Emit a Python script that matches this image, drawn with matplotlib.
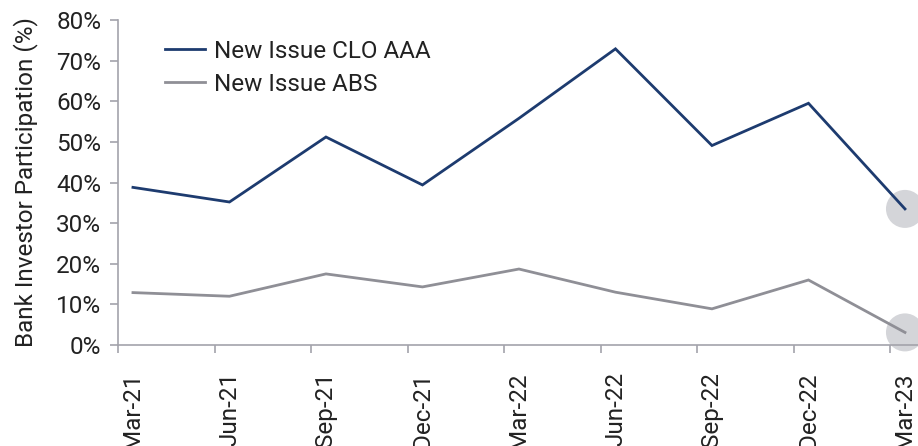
import matplotlib
matplotlib.use("Agg")
import matplotlib.pyplot as plt
from matplotlib.patches import Ellipse
from matplotlib.lines import Line2D
import numpy as np

categories = ["Mar-21", "Jun-21", "Sep-21", "Dec-21", "Mar-22", "Jun-22", "Sep-22", "Dec-22", "Mar-23"]
clo_aaa = [38.8, 35.2, 51.2, 39.4, 55.8, 72.9, 49.1, 59.5, 33.5]
abs_vals = [12.9, 12.0, 17.5, 14.3, 18.7, 13.0, 8.9, 16.0, 3.1]
series_names = ["New Issue CLO AAA", "New Issue ABS"]
y_ticks = [0, 10, 20, 30, 40, 50, 60, 70, 80]

plt.rcParams['font.family'] = ['Roboto', 'DejaVu Sans']
FS = 17.5
txt_col = "#222222"

W, H = 918, 446
fig = plt.figure(figsize=(W / 100, H / 100), dpi=100)
left_px, right_px, top_px, bot_px = 118, 918, 20, 345
ax = fig.add_axes([left_px / W, 1 - bot_px / H, (right_px - left_px) / W, (bot_px - top_px) / H])

x = np.arange(len(categories))
navy = "#1d3b6f"
grey = "#8f8f96"
axis_col = "#a3a3ab"

ax.plot(x, clo_aaa, color=navy, lw=2.0, zorder=3, solid_joinstyle='miter')
ax.plot(x, abs_vals, color=grey, lw=2.0, zorder=3, solid_joinstyle='miter')

ax.set_xlim(-0.155, 8.135)
ax.set_ylim(0, 80)

px_per_x = (right_px - left_px) / (8.135 + 0.155)
px_per_y = (bot_px - top_px) / 80
r = 19
for v in [clo_aaa[-1], abs_vals[-1]]:
    e = Ellipse((x[-1], v), width=2 * r / px_per_x, height=2 * r / px_per_y,
                facecolor="#d4d5d9", edgecolor="none", zorder=2, clip_on=False)
    ax.add_patch(e)

for s in ["top", "right"]:
    ax.spines[s].set_visible(False)
for s in ["left", "bottom"]:
    ax.spines[s].set_color(axis_col)
    ax.spines[s].set_linewidth(1.2)

ax.set_yticks(y_ticks)
ax.set_yticklabels([f"{v}%" for v in y_ticks])
ax.tick_params(axis='y', length=6, width=1.2, color=axis_col, pad=6, labelsize=FS, labelcolor=txt_col)

ax.set_xticks(x)
ax.set_xticklabels(categories, rotation=90, va='top', ha='center')
ax.tick_params(axis='x', which='major', length=0, pad=19.5, labelsize=FS, labelcolor=txt_col)
ax.set_xticks(x - 0.155 + 1e-6, minor=True)
ax.tick_params(axis='x', which='minor', length=6, width=1.2, color=axis_col)

ax.set_ylabel("Bank Investor Participation (%)", fontsize=FS, color=txt_col, labelpad=13)

# legend
handles = [Line2D([], [], color=navy, lw=2.0), Line2D([], [], color=grey, lw=2.0)]
leg = ax.legend(handles, series_names, loc='upper left', bbox_to_anchor=(0.047, 0.969), frameon=False,
                fontsize=FS, handlelength=1.65, handletextpad=0.35, labelspacing=0.4, borderaxespad=0)
for t in leg.get_texts():
    t.set_color(txt_col)

fig.savefig("out.png", dpi=100)
